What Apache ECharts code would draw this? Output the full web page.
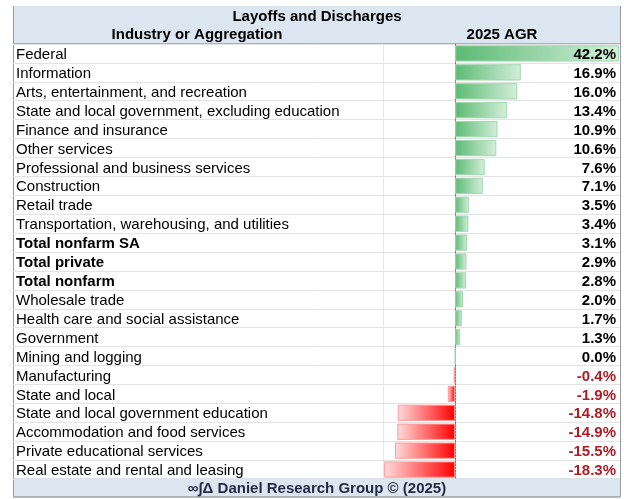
<!DOCTYPE html>
<html>
<head>
<meta charset="utf-8">
<script src="https://cdn.jsdelivr.net/npm/echarts@6/dist/echarts.min.js"></script>
<style>
html,body{margin:0;padding:0;background:#fff;}
#main{width:624px;height:499px;}
</style>
</head>
<body>
<div id="main"></div>
<script>
// rows top to bottom
var industries=['Federal','Information','Arts, entertainment, and recreation',
    'State and local government, excluding education','Finance and insurance','Other services',
    'Professional and business services','Construction','Retail trade',
    'Transportation, warehousing, and utilities','Total nonfarm SA','Total private','Total nonfarm',
    'Wholesale trade','Health care and social assistance','Government','Mining and logging',
    'Manufacturing','State and local','State and local government education',
    'Accommodation and food services','Private educational services','Real estate and rental and leasing'];
var agr2025=[42.2,16.9,16.0,13.4,10.9,10.6,7.6,7.1,3.5,3.4,3.1,2.9,2.8,2.0,1.7,1.3,0.0,-0.4,-1.9,-14.8,-14.9,-15.5,-18.3];
var boldRows=['Total nonfarm SA','Total private','Total nonfarm'];
var titleText='Layoffs and Discharges';
var colHeaders=['Industry or Aggregation','2025 AGR'];
var footerText='\u221E\u222B\u0394 Daniel Research Group \u00A9 (2025)';

var FONT='"Liberation Sans", Arial, sans-serif';
var TOP=44,BOTTOM=20,LEFT=13,RIGHT=4,BARLEFT=383;

var valueLabels=agr2025.map(function(v){return v.toFixed(1)+'%';});

var barData=agr2025.map(function(v){
    var grad;
    if(v>=0){
        grad=new echarts.graphic.LinearGradient(0,0,1,0,[
            {offset:0,color:'#5cba74'},{offset:1,color:'#d3efda'}]);
        return {value:v,itemStyle:{color:grad,borderColor:'#9fd8ae',borderWidth:1}};
    }
    grad=new echarts.graphic.LinearGradient(0,0,1,0,[
        {offset:0,color:'#ffdcdc'},{offset:1,color:'#ff0000'}]);
    return {value:v,itemStyle:{color:grad,borderColor:'#ff9a9a',borderWidth:1}};
});

var chart=echarts.init(document.getElementById('main'));
var option={
    animation:false,
    backgroundColor:'#fff',
    grid:[
        {left:LEFT,right:RIGHT,top:TOP,bottom:BOTTOM},
        {left:BARLEFT,right:RIGHT+1,top:TOP,bottom:BOTTOM}
    ],
    xAxis:[
        {gridIndex:0,type:'value',min:0,max:1,show:false},
        {gridIndex:1,type:'value',min:-18.6,max:42.2,show:false}
    ],
    yAxis:[
        {gridIndex:0,type:'category',data:industries,inverse:true,
            axisLine:{show:false},axisTick:{show:false},
            splitLine:{show:true,interval:0,lineStyle:{color:'#e3e3e3',width:1}},
            axisLabel:{inside:true,interval:0,margin:3,align:'left',padding:[3,0,0,0],fontFamily:FONT,fontSize:15,color:'#000',
                formatter:function(v){return boldRows.indexOf(v)>=0?'{b|'+v+'}':v;},
                rich:{b:{fontFamily:FONT,fontSize:15,fontWeight:'bold',color:'#000'}}}
        },
        {gridIndex:0,type:'category',data:valueLabels,inverse:true,position:'right',z:10,
            axisLine:{show:false},axisTick:{show:false},
            axisLabel:{inside:true,interval:0,margin:4,align:'right',padding:[3,0,0,0],fontFamily:FONT,fontSize:15,fontWeight:'bold',
                formatter:function(v){return v.charAt(0)=='-'?'{n|'+v+'}':v;},
                color:'#000',
                rich:{n:{fontFamily:FONT,fontSize:15,fontWeight:'bold',color:'#b01c24'}}}
        },
        {gridIndex:1,type:'category',data:industries,inverse:true,
            axisLabel:{show:false},axisTick:{show:false},
            axisLine:{show:true,onZero:true,lineStyle:{color:'#7a7a7a',type:[2,1],width:1}}
        }
    ],
    series:[
        {type:'bar',xAxisIndex:1,yAxisIndex:2,data:barData,barCategoryGap:'14%',z:1}
    ],
    graphic:[
        {type:'rect',shape:{x:LEFT,y:6,width:624-LEFT-RIGHT,height:TOP-6},style:{fill:'#dce6f1'},z:-1},
        {type:'line',shape:{x1:LEFT,y1:TOP,x2:624-RIGHT,y2:TOP},style:{stroke:'#a3b3c5',lineWidth:2}},
        {type:'rect',shape:{x:LEFT,y:499-BOTTOM,width:624-LEFT-RIGHT,height:BOTTOM-2},style:{fill:'#dce6f1'},z:-1},
        {type:'line',shape:{x1:LEFT,y1:499-BOTTOM,x2:624-RIGHT,y2:499-BOTTOM},style:{stroke:'#b7c3d0',lineWidth:1}},
        {type:'line',shape:{x1:LEFT,y1:497,x2:624-RIGHT,y2:497},style:{stroke:'#7a7a7a',lineWidth:1}},
        {type:'line',shape:{x1:LEFT+0.5,y1:6,x2:LEFT+0.5,y2:497},style:{stroke:'#9a9a9a',lineWidth:1}},
        {type:'line',shape:{x1:620.5,y1:6,x2:620.5,y2:497},style:{stroke:'#9a9a9a',lineWidth:1}},
        {type:'line',shape:{x1:BARLEFT+0.5,y1:TOP+1,x2:BARLEFT+0.5,y2:499-BOTTOM},style:{stroke:'#e6e6e6',lineWidth:1}},
        {type:'text',x:317,y:17,style:{text:titleText,font:'bold 15px '+FONT,fill:'#000',textAlign:'center',textVerticalAlign:'middle'}},
        {type:'text',x:197,y:35,style:{text:colHeaders[0],font:'bold 15px '+FONT,fill:'#000',textAlign:'center',textVerticalAlign:'middle'}},
        {type:'text',x:502,y:35,style:{text:colHeaders[1],font:'bold 15px '+FONT,fill:'#000',textAlign:'center',textVerticalAlign:'middle'}},
        {type:'text',x:317,y:489,style:{text:footerText,font:'bold 15px '+FONT,fill:'#1f2a44',textAlign:'center',textVerticalAlign:'middle'}}
    ]
};
chart.setOption(option);
</script>
</body>
</html>
